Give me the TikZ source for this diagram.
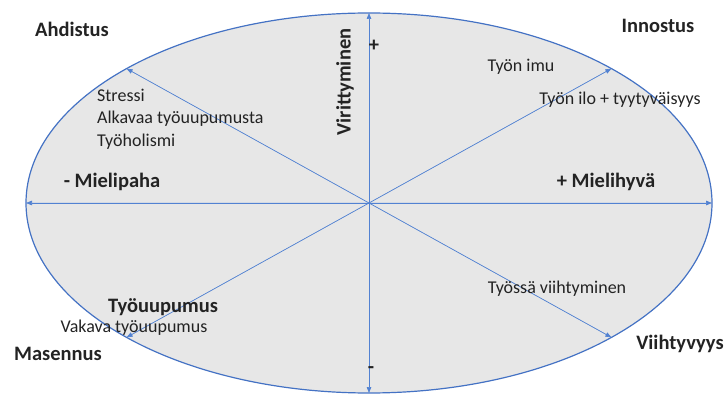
\documentclass[tikz,border=0pt]{standalone}
\usepackage{fontspec}
\setmainfont{Carlito}
\usepackage{tikz}
\usetikzlibrary{arrows.meta,shapes.geometric}
\definecolor{ringblue}{RGB}{68,114,196}
\definecolor{axisblue}{RGB}{82,130,210}
\definecolor{ringfill}{RGB}{231,231,231}
\definecolor{inktext}{RGB}{35,35,35}

\begin{document}
\begin{tikzpicture}[x=1pt, y=1pt,
    ring/.style={draw=ringblue, line width=1.2pt, fill=ringfill, ellipse, inner sep=0pt, outer sep=0pt, minimum width=686pt, minimum height=380pt},
    axis/.style={-{Triangle[length=6pt, width=4.5pt]}, draw=axisblue, fill=axisblue, line width=0.7pt},
    lbl/.style={text=inktext, inner sep=0pt, font=\fontsize{18}{22.5}\selectfont},
    state/.style={text=inktext, inner sep=0pt, font=\fontsize{20.5}{24}\selectfont\bfseries}
  ]
    \useasboundingbox (0,0) rectangle (726,394);
    \node[ring] (ring) at (369,191) {};
    \coordinate (o) at (ring.center);
    \draw[axis] (o) -- (ring.north);
    \draw[axis] (o) -- (ring.south);
    \draw[axis] (o) -- (ring.east);
    \draw[axis] (o) -- (ring.west);
    \draw[axis] (o) -- (ring.29);
    \draw[axis] (o) -- (ring.151);
    \draw[axis] (o) -- (ring.209);
    \draw[axis] (o) -- (ring.331);
    \node[state] (ahdistus) at (72,365) {Ahdistus};
    \node[state] (innostus) at (658,368) {Innostus};
    \node[state] (masennus) at (58,40) {Masennus};
    \node[state] (viihtyvyys) at (680,50) {Viihtyvyys};
    \node[state, rotate=90] (vire) at (345,312) {Virittyminen};
    \node[state] (plus) at (374,348) {+};
    \node[state] (minus) at (371,24) {-};
    \node[state] (mielihyva) at (606,212) {+ Mielihyvä};
    \node[state] (mielipaha) at (112,212) {- Mielipaha};
    \node[state] (uupumus) at (163,87) {Työuupumus};
    \node[lbl, align=left, anchor=west] (stressi) at (97,275) {Stressi\\Alkavaa työuupumusta\\Työholismi};
    \node[lbl] (imu) at (521,327) {Työn imu};
    \node[lbl] (ilo) at (620,294) {Työn ilo + tyytyväisyys};
    \node[lbl] (viihtyminen) at (557,105) {Työssä viihtyminen};
    \node[lbl] (vakava) at (134,66) {Vakava työuupumus};
  \end{tikzpicture}
\end{document}
